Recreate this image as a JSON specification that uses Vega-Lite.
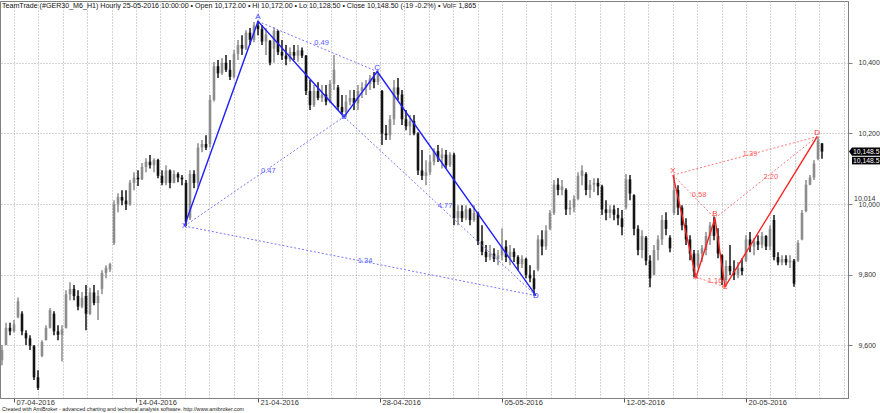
{
"$schema": "https://vega.github.io/schema/vega-lite/v6.json",
"width": 848, "height": 397,
"autosize": "none",
"padding": {"left": 0, "top": 1, "right": 32, "bottom": 15},
"background": "white",
"config": {"view": {"stroke": "#808080", "strokeWidth": 1}, "font": "Liberation Sans"},
"resolve": {"axis": {"x": "independent"}},
"datasets": {
"bars": [
{"k":0,"o":9558,"h":9601,"l":9544,"c":9587},{"k":1,"o":9601,"h":9664,"l":9601,"c":9650},{"k":2,"o":9650,"h":9664,"l":9629,"c":9640},{"k":3,"o":9640,"h":9672,"l":9637,"c":9660},
{"k":4,"o":9680,"h":9736,"l":9677,"c":9725},{"k":5,"o":9690,"h":9697,"l":9629,"c":9640},{"k":6,"o":9635,"h":9643,"l":9601,"c":9620},{"k":7,"o":9620,"h":9629,"l":9587,"c":9600},
{"k":8,"o":9598,"h":9601,"l":9502,"c":9510},{"k":9,"o":9510,"h":9530,"l":9474,"c":9480},{"k":10,"o":9570,"h":9615,"l":9567,"c":9610},{"k":11,"o":9615,"h":9657,"l":9615,"c":9650},
{"k":12,"o":9650,"h":9706,"l":9648,"c":9700},{"k":13,"o":9690,"h":9697,"l":9629,"c":9640},{"k":14,"o":9640,"h":9657,"l":9615,"c":9630},{"k":15,"o":9630,"h":9657,"l":9555,"c":9645},
{"k":16,"o":9650,"h":9756,"l":9648,"c":9745},{"k":17,"o":9745,"h":9779,"l":9728,"c":9760},{"k":18,"o":9760,"h":9771,"l":9728,"c":9740},{"k":19,"o":9740,"h":9756,"l":9700,"c":9710},
{"k":20,"o":9710,"h":9751,"l":9705,"c":9735},{"k":21,"o":9740,"h":9771,"l":9643,"c":9690},{"k":22,"o":9690,"h":9763,"l":9686,"c":9750},{"k":23,"o":9750,"h":9771,"l":9714,"c":9720},
{"k":24,"o":9720,"h":9756,"l":9672,"c":9740},{"k":25,"o":9760,"h":9813,"l":9745,"c":9805},{"k":26,"o":9805,"h":9827,"l":9790,"c":9820},{"k":27,"o":9815,"h":9834,"l":9808,"c":9830},
{"k":28,"o":9890,"h":10011,"l":9884,"c":10000},{"k":29,"o":10000,"h":10031,"l":9977,"c":10020},{"k":30,"o":10020,"h":10039,"l":9997,"c":10010},{"k":31,"o":10010,"h":10039,"l":9983,"c":10000},
{"k":32,"o":10000,"h":10068,"l":9995,"c":10060},{"k":33,"o":10060,"h":10090,"l":10039,"c":10075},{"k":34,"o":10075,"h":10096,"l":10051,"c":10070},{"k":35,"o":10070,"h":10116,"l":10068,"c":10105},
{"k":36,"o":10105,"h":10130,"l":10090,"c":10120},{"k":37,"o":10120,"h":10139,"l":10101,"c":10110},{"k":38,"o":10110,"h":10130,"l":10090,"c":10125},{"k":39,"o":10125,"h":10128,"l":10073,"c":10080},
{"k":40,"o":10080,"h":10096,"l":10053,"c":10060},{"k":41,"o":10060,"h":10110,"l":10053,"c":10095},{"k":42,"o":10095,"h":10098,"l":10045,"c":10060},{"k":43,"o":10060,"h":10096,"l":10059,"c":10085},
{"k":44,"o":10085,"h":10090,"l":10062,"c":10075},{"k":45,"o":10075,"h":10082,"l":10053,"c":10070},{"k":46,"o":10060,"h":10068,"l":9938,"c":9950},{"k":47,"o":9960,"h":10096,"l":9955,"c":10085},
{"k":48,"o":10085,"h":10096,"l":10045,"c":10060},{"k":49,"o":10060,"h":10172,"l":10048,"c":10160},{"k":50,"o":10160,"h":10181,"l":10147,"c":10170},{"k":51,"o":10170,"h":10195,"l":10153,"c":10160},
{"k":52,"o":10170,"h":10309,"l":10160,"c":10295},{"k":53,"o":10295,"h":10402,"l":10290,"c":10390},{"k":54,"o":10390,"h":10408,"l":10357,"c":10370},{"k":55,"o":10370,"h":10413,"l":10365,"c":10400},
{"k":56,"o":10400,"h":10422,"l":10374,"c":10380},{"k":57,"o":10380,"h":10408,"l":10351,"c":10360},{"k":58,"o":10360,"h":10436,"l":10355,"c":10425},{"k":59,"o":10425,"h":10464,"l":10408,"c":10450},
{"k":60,"o":10450,"h":10478,"l":10422,"c":10440},{"k":61,"o":10440,"h":10492,"l":10436,"c":10485},{"k":62,"o":10485,"h":10498,"l":10450,"c":10465},{"k":63,"o":10465,"h":10515,"l":10458,"c":10505},
{"k":64,"o":10505,"h":10517,"l":10478,"c":10495},{"k":65,"o":10495,"h":10507,"l":10450,"c":10460},{"k":66,"o":10460,"h":10498,"l":10422,"c":10480},{"k":67,"o":10462,"h":10464,"l":10393,"c":10400},
{"k":68,"o":10440,"h":10500,"l":10400,"c":10490},{"k":69,"o":10490,"h":10492,"l":10422,"c":10430},{"k":70,"o":10430,"h":10464,"l":10408,"c":10420},{"k":71,"o":10420,"h":10450,"l":10393,"c":10410},
{"k":72,"o":10410,"h":10443,"l":10403,"c":10430},{"k":73,"o":10430,"h":10450,"l":10408,"c":10420},{"k":74,"o":10420,"h":10450,"l":10403,"c":10435},{"k":75,"o":10435,"h":10443,"l":10413,"c":10420},
{"k":76,"o":10420,"h":10422,"l":10309,"c":10320},{"k":77,"o":10320,"h":10351,"l":10266,"c":10280},{"k":78,"o":10280,"h":10337,"l":10275,"c":10320},{"k":79,"o":10320,"h":10345,"l":10294,"c":10300},
{"k":80,"o":10300,"h":10337,"l":10289,"c":10310},{"k":81,"o":10310,"h":10337,"l":10280,"c":10290},{"k":82,"o":10290,"h":10351,"l":10285,"c":10340},{"k":83,"o":10340,"h":10422,"l":10323,"c":10380},
{"k":84,"o":10330,"h":10337,"l":10266,"c":10275},{"k":85,"o":10275,"h":10309,"l":10252,"c":10260},{"k":86,"o":10260,"h":10309,"l":10247,"c":10290},{"k":87,"o":10290,"h":10323,"l":10280,"c":10300},
{"k":88,"o":10300,"h":10323,"l":10266,"c":10285},{"k":89,"o":10285,"h":10337,"l":10266,"c":10320},{"k":90,"o":10320,"h":10345,"l":10300,"c":10330},{"k":91,"o":10330,"h":10351,"l":10309,"c":10340},
{"k":92,"o":10340,"h":10365,"l":10323,"c":10355},{"k":93,"o":10355,"h":10374,"l":10328,"c":10345},{"k":94,"o":10345,"h":10379,"l":10337,"c":10370},{"k":95,"o":10320,"h":10323,"l":10167,"c":10200},
{"k":96,"o":10200,"h":10224,"l":10181,"c":10195},{"k":97,"o":10195,"h":10252,"l":10181,"c":10240},{"k":98,"o":10240,"h":10351,"l":10224,"c":10330},{"k":99,"o":10330,"h":10357,"l":10294,"c":10310},
{"k":100,"o":10310,"h":10323,"l":10224,"c":10240},{"k":101,"o":10240,"h":10266,"l":10209,"c":10220},{"k":102,"o":10220,"h":10252,"l":10195,"c":10235},{"k":103,"o":10235,"h":10252,"l":10195,"c":10200},
{"k":104,"o":10200,"h":10203,"l":10082,"c":10095},{"k":105,"o":10095,"h":10153,"l":10068,"c":10080},{"k":106,"o":10080,"h":10124,"l":10053,"c":10090},{"k":107,"o":10090,"h":10139,"l":10082,"c":10120},
{"k":108,"o":10120,"h":10158,"l":10110,"c":10150},{"k":109,"o":10150,"h":10167,"l":10119,"c":10130},{"k":110,"o":10130,"h":10158,"l":10101,"c":10140},{"k":111,"o":10140,"h":10153,"l":10101,"c":10110},
{"k":112,"o":10110,"h":10147,"l":10105,"c":10140},{"k":113,"o":10140,"h":10145,"l":9940,"c":9960},{"k":114,"o":9960,"h":9997,"l":9940,"c":9980},{"k":115,"o":9980,"h":9997,"l":9949,"c":9960},
{"k":116,"o":9960,"h":9997,"l":9954,"c":9985},{"k":117,"o":9985,"h":9989,"l":9940,"c":9955},{"k":118,"o":9955,"h":9997,"l":9950,"c":9975},{"k":119,"o":9975,"h":9978,"l":9884,"c":9895},
{"k":120,"o":9895,"h":9940,"l":9855,"c":9865},{"k":121,"o":9865,"h":9884,"l":9836,"c":9850},{"k":122,"o":9850,"h":9884,"l":9841,"c":9860},{"k":123,"o":9860,"h":9875,"l":9836,"c":9845},
{"k":124,"o":9845,"h":9870,"l":9827,"c":9855},{"k":125,"o":9855,"h":9932,"l":9841,"c":9880},{"k":126,"o":9880,"h":9898,"l":9836,"c":9850},{"k":127,"o":9850,"h":9884,"l":9827,"c":9865},
{"k":128,"o":9865,"h":9875,"l":9836,"c":9850},{"k":129,"o":9850,"h":9855,"l":9813,"c":9830},{"k":130,"o":9830,"h":9855,"l":9819,"c":9845},{"k":131,"o":9845,"h":9848,"l":9790,"c":9800},
{"k":132,"o":9800,"h":9827,"l":9779,"c":9790},{"k":133,"o":9790,"h":9813,"l":9741,"c":9760},{"k":134,"o":9815,"h":9912,"l":9810,"c":9900},{"k":135,"o":9900,"h":9926,"l":9855,"c":9880},
{"k":136,"o":9880,"h":9940,"l":9870,"c":9925},{"k":137,"o":9930,"h":9983,"l":9926,"c":9975},{"k":138,"o":9975,"h":10068,"l":9969,"c":10055},{"k":139,"o":10055,"h":10073,"l":10025,"c":10040},
{"k":140,"o":10040,"h":10068,"l":10025,"c":10050},{"k":141,"o":10040,"h":10045,"l":9969,"c":9985},{"k":142,"o":9985,"h":10011,"l":9969,"c":9990},{"k":143,"o":9990,"h":10025,"l":9977,"c":10015},
{"k":144,"o":10015,"h":10090,"l":10011,"c":10080},{"k":145,"o":10080,"h":10110,"l":10053,"c":10095},{"k":146,"o":10085,"h":10090,"l":10025,"c":10040},{"k":147,"o":10040,"h":10068,"l":10017,"c":10055},
{"k":148,"o":10055,"h":10073,"l":10034,"c":10060},{"k":149,"o":10060,"h":10073,"l":10025,"c":10050},{"k":150,"o":10050,"h":10055,"l":9969,"c":9985},{"k":151,"o":9985,"h":10011,"l":9954,"c":9975},
{"k":152,"o":9975,"h":9997,"l":9960,"c":9985},{"k":153,"o":9985,"h":9997,"l":9954,"c":9970},{"k":154,"o":9970,"h":9989,"l":9940,"c":9960},{"k":155,"o":9960,"h":9983,"l":9912,"c":9935},
{"k":156,"o":9990,"h":10085,"l":9985,"c":10070},{"k":157,"o":10070,"h":10082,"l":10011,"c":10030},{"k":158,"o":10025,"h":10028,"l":9912,"c":9930},{"k":159,"o":9930,"h":9940,"l":9855,"c":9870},
{"k":160,"o":9870,"h":9926,"l":9847,"c":9910},{"k":161,"o":9905,"h":9910,"l":9827,"c":9840},{"k":162,"o":9840,"h":9855,"l":9765,"c":9790},{"k":163,"o":9800,"h":9884,"l":9799,"c":9870},
{"k":164,"o":9870,"h":9912,"l":9841,"c":9900},{"k":165,"o":9900,"h":9969,"l":9884,"c":9955},{"k":166,"o":9955,"h":9977,"l":9912,"c":9930},{"k":167,"o":9905,"h":9912,"l":9864,"c":9875},
{"k":168,"o":9975,"h":10082,"l":9969,"c":10040},{"k":169,"o":10040,"h":10053,"l":9969,"c":9990},{"k":170,"o":9990,"h":9997,"l":9926,"c":9940},{"k":171,"o":9940,"h":9960,"l":9884,"c":9900},
{"k":172,"o":9900,"h":9912,"l":9841,"c":9860},{"k":173,"o":9860,"h":9870,"l":9793,"c":9810},{"k":174,"o":9825,"h":9870,"l":9819,"c":9860},{"k":175,"o":9860,"h":9884,"l":9836,"c":9875},
{"k":176,"o":9870,"h":9921,"l":9855,"c":9910},{"k":177,"o":9910,"h":9949,"l":9884,"c":9940},{"k":178,"o":9940,"h":9965,"l":9898,"c":9910},{"k":179,"o":9910,"h":9932,"l":9847,"c":9860},
{"k":180,"o":9855,"h":9858,"l":9771,"c":9785},{"k":181,"o":9785,"h":9841,"l":9766,"c":9825},{"k":182,"o":9825,"h":9884,"l":9799,"c":9810},{"k":183,"o":9810,"h":9841,"l":9785,"c":9800},
{"k":184,"o":9800,"h":9836,"l":9790,"c":9820},{"k":185,"o":9820,"h":9847,"l":9799,"c":9810},{"k":186,"o":9840,"h":9912,"l":9836,"c":9900},{"k":187,"o":9900,"h":9921,"l":9864,"c":9880},
{"k":188,"o":9880,"h":9904,"l":9855,"c":9895},{"k":189,"o":9895,"h":9912,"l":9870,"c":9885},{"k":190,"o":9885,"h":9921,"l":9875,"c":9910},{"k":191,"o":9910,"h":9912,"l":9870,"c":9880},
{"k":192,"o":9880,"h":9940,"l":9870,"c":9930},{"k":193,"o":9955,"h":9969,"l":9841,"c":9850},{"k":194,"o":9850,"h":9864,"l":9827,"c":9835},{"k":195,"o":9835,"h":9855,"l":9827,"c":9845},
{"k":196,"o":9845,"h":9855,"l":9827,"c":9835},{"k":197,"o":9835,"h":9855,"l":9819,"c":9840},{"k":198,"o":9840,"h":9845,"l":9766,"c":9775},{"k":199,"o":9840,"h":9898,"l":9836,"c":9890},
{"k":200,"o":9900,"h":9983,"l":9898,"c":9975},{"k":201,"o":9980,"h":10068,"l":9977,"c":10055},{"k":202,"o":10055,"h":10082,"l":10053,"c":10075},{"k":203,"o":10075,"h":10124,"l":10068,"c":10115},
{"k":204,"o":10128,"h":10191,"l":10124,"c":10180},{"k":205,"o":10172,"h":10172,"l":10128.5,"c":10148.5}
],
"pts": [
{"pat":"b","lab":"X","i":0,"k":45.6,"p":9938,"hi":false},
{"pat":"b","lab":"A","i":1,"k":64,"p":10517,"hi":true},
{"pat":"b","lab":"B","i":2,"k":85.5,"p":10247,"hi":false},
{"pat":"b","lab":"C","i":3,"k":93.8,"p":10375,"hi":true},
{"pat":"b","lab":"D","i":4,"k":133.5,"p":9741,"hi":false},
{"pat":"r","lab":"X","i":0,"k":167.75,"p":10082,"hi":true},
{"pat":"r","lab":"A","i":1,"k":173.5,"p":9793,"hi":false},
{"pat":"r","lab":"B","i":2,"k":178.25,"p":9960,"hi":true},
{"pat":"r","lab":"C","i":3,"k":180.75,"p":9766,"hi":false},
{"pat":"r","lab":"D","i":4,"k":203.8,"p":10191,"hi":true}
],
"dots": [
{"pat":"b","k1":45.6,"p1":9938,"k2":85.5,"p2":10247},
{"pat":"b","k1":64,"p1":10517,"k2":93.8,"p2":10375},
{"pat":"b","k1":85.5,"p1":10247,"k2":133.5,"p2":9741},
{"pat":"b","k1":45.6,"p1":9938,"k2":133.5,"p2":9741},
{"pat":"r","k1":167.75,"p1":10082,"k2":178.25,"p2":9960},
{"pat":"r","k1":173.5,"p1":9793,"k2":180.75,"p2":9766},
{"pat":"r","k1":178.25,"p1":9960,"k2":203.8,"p2":10191},
{"pat":"r","k1":167.75,"p1":10082,"k2":203.8,"p2":10191}
],
"ratios": [
{"pat":"b","txt":"0.49","k":79.9,"p":10455},
{"pat":"b","txt":"0.47","k":66.6,"p":10094},
{"pat":"b","txt":"4.77","k":110.75,"p":9995},
{"pat":"b","txt":"1.34","k":90.75,"p":9839},
{"pat":"r","txt":"1.39","k":187,"p":10142},
{"pat":"r","txt":"2.20","k":192.2,"p":10077},
{"pat":"r","txt":"0.58","k":174.25,"p":10026},
{"pat":"r","txt":"1.16","k":178.25,"p":9783}
],
"info": [
{"title":"TeamTrade (#GER30_M6_H1) Hourly  25-05-2016 10:00:00  •  Open 10,172.00  •  Hi 10,172.00  •  Lo 10,128.50  •  Close 10,148.50 (-19 -0.2%)  •  Vol= 1,865","footer":"Created with AmiBroker - advanced charting and technical analysis software. http://www.amibroker.com","close":10148.5,"closeLabel":"10,148.5","marker":10014,"markerLabel":"10,014"}
]
},
"layer": [
{
"data": {"name": "bars"},
"mark": {"type": "rule", "strokeWidth": 1.5},
"encoding": {
"x": {"field": "k", "type": "quantitative", "scale": {"domain": [-0.5, 211.5], "nice": false, "zero": false},
"axis": {"orient": "bottom", "title": null,
"values": [3,9.1,15.2,21.3,27.4,33.5,39.6,45.7,51.8,57.9,64,70.1,76.2,82.3,88.4,94.5,100.6,106.7,112.8,118.9,125,131.1,137.2,143.3,149.4,155.5,161.6,167.7,173.8,179.9,186,192.1,198.2,204.3,210.4],
"grid": true, "gridColor": "#a8a8a8", "gridDash": [1, 2], "gridWidth": 1,
"domain": false, "ticks": false, "labels": false}},
"y": {"field": "l", "type": "quantitative", "scale": {"domain": [9451.4, 10574.6], "nice": false, "zero": false},
"axis": {"orient": "right", "title": null, "values": [9600, 9800, 10000, 10200, 10400], "format": ",.0f",
"grid": true, "gridColor": "#a8a8a8", "gridDash": [1, 2], "domainColor": "#808080", "tickSize": 4, "tickColor": "#808080",
"labelPadding": 6, "labelFontSize": 7, "labelColor": "#333333", "labelFont": "Liberation Sans", "labelAlign": "left", "labelOverlap": false}},
"y2": {"field": "h"},
"color": {"condition": {"test": "datum.c >= datum.o", "value": "#8c8c8c"}, "value": "#141414"}
}
},
{
"data": {"name": "bars"},
"mark": {"type": "rule", "strokeWidth": 2.6},
"encoding": {
"x": {"field": "k", "type": "quantitative",
"axis": {"orient": "bottom", "title": null, "values": [3, 33.5, 64, 94.5, 125, 155.5, 186], "grid": false,
"domain": true, "domainColor": "#808080", "ticks": true, "tickSize": 4, "tickColor": "#555555",
"labelExpr": "datum.value==3?'07-04-2016':datum.value==33.5?'14-04-2016':datum.value==64?'21-04-2016':datum.value==94.5?'28-04-2016':datum.value==125?'05-05-2016':datum.value==155.5?'12-05-2016':'20-05-2016'",
"labelAlign": "left", "labelBaseline": "top", "labelPadding": -4, "labelOffset": 2, "labelFontSize": 7.5, "labelColor": "#333333", "labelFont": "Liberation Sans", "labelOverlap": false, "labelBound": false, "labelFlush": false}},
"y": {"field": "o", "type": "quantitative"},
"y2": {"field": "c"},
"color": {"condition": {"test": "datum.c >= datum.o", "value": "#8c8c8c"}, "value": "#141414"}
}
},
{
"data": {"name": "dots"},
"mark": {"type": "rule", "strokeWidth": 1, "strokeDash": [2, 2]},
"encoding": {
"x": {"field": "k1", "type": "quantitative", "axis": null},
"y": {"field": "p1", "type": "quantitative"},
"x2": {"field": "k2"},
"y2": {"field": "p2"},
"color": {"condition": {"test": "datum.pat == 'b'", "value": "#7878ff"}, "value": "#ff7878"}
}
},
{
"data": {"name": "pts"},
"mark": {"type": "line", "strokeWidth": 1.4},
"encoding": {
"x": {"field": "k", "type": "quantitative", "axis": null},
"y": {"field": "p", "type": "quantitative"},
"detail": {"field": "pat"},
"order": {"field": "i"},
"color": {"condition": {"test": "datum.pat == 'b'", "value": "#2020ff"}, "value": "#ff2020"}
}
},
{
"data": {"name": "ratios"},
"mark": {"type": "text", "fontSize": 7.5, "align": "center", "baseline": "middle", "font": "Liberation Sans"},
"encoding": {
"x": {"field": "k", "type": "quantitative", "axis": null},
"y": {"field": "p", "type": "quantitative"},
"text": {"field": "txt"},
"color": {"condition": {"test": "datum.pat == 'b'", "value": "#5a5aff"}, "value": "#ff5a5a"}
}
},
{
"data": {"name": "pts"},
"transform": [{"filter": "datum.hi"}],
"mark": {"type": "text", "fontSize": 8, "align": "center", "baseline": "middle", "dy": -4, "font": "Liberation Sans"},
"encoding": {
"x": {"field": "k", "type": "quantitative", "axis": null},
"y": {"field": "p", "type": "quantitative"},
"text": {"field": "lab"},
"color": {"condition": {"test": "datum.pat == 'b'", "value": "#4040ff"}, "value": "#ff4040"}
}
},
{
"data": {"name": "pts"},
"transform": [{"filter": "!datum.hi"}],
"mark": {"type": "text", "fontSize": 8, "align": "center", "baseline": "middle", "dy": 0, "font": "Liberation Sans"},
"encoding": {
"x": {"field": "k", "type": "quantitative", "axis": null},
"y": {"field": "p", "type": "quantitative"},
"text": {"field": "lab"},
"color": {"condition": {"test": "datum.pat == 'b'", "value": "#4040ff"}, "value": "#ff4040"}
}
},
{
"data": {"name": "info"},
"mark": {"type": "text", "fontSize": 7.1, "align": "left", "baseline": "middle", "dx": 2, "dy": 4.5, "color": "#111111", "font": "Liberation Sans"},
"encoding": {"x": {"datum": -0.5, "axis": null}, "y": {"datum": 10574.6}, "text": {"field": "title"}}
},
{
"data": {"name": "info"},
"mark": {"type": "text", "fontSize": 5.3, "align": "left", "baseline": "middle", "dx": 2, "dy": 11, "color": "#222222", "font": "Liberation Sans"},
"encoding": {"x": {"datum": -0.5, "axis": null}, "y": {"datum": 9451.4}, "text": {"field": "footer"}}
},
{
"data": {"name": "info"},
"mark": {"type": "point", "shape": "M0.05,0L0.2,-0.21L1.7,-0.21L1.7,0.21L0.2,0.21Z", "size": 1600, "filled": true, "color": "#000000", "opacity": 1, "strokeWidth": 0},
"encoding": {"x": {"datum": 211.5, "axis": null}, "y": {"field": "close", "type": "quantitative"}}
},
{
"data": {"name": "info"},
"mark": {"type": "point", "shape": "M0.2,0.26L1.7,0.26L1.7,0.64L0.2,0.64Z", "size": 1600, "filled": true, "color": "#000000", "opacity": 1, "strokeWidth": 0},
"encoding": {"x": {"datum": 211.5, "axis": null}, "y": {"field": "close", "type": "quantitative"}}
},
{
"data": {"name": "info"},
"mark": {"type": "text", "fontSize": 6.8, "align": "left", "baseline": "middle", "dx": 5, "color": "#ffffff", "font": "Liberation Sans"},
"encoding": {"x": {"datum": 211.5, "axis": null}, "y": {"field": "close", "type": "quantitative"}, "text": {"field": "closeLabel"}}
},
{
"data": {"name": "info"},
"mark": {"type": "text", "fontSize": 6.8, "align": "left", "baseline": "middle", "dx": 5, "dy": 9, "color": "#ffffff", "font": "Liberation Sans"},
"encoding": {"x": {"datum": 211.5, "axis": null}, "y": {"field": "close", "type": "quantitative"}, "text": {"field": "closeLabel"}}
},
{
"data": {"name": "info"},
"mark": {"type": "text", "fontSize": 7, "align": "left", "baseline": "middle", "dx": 6, "color": "#333333", "font": "Liberation Sans"},
"encoding": {"x": {"datum": 211.5, "axis": null}, "y": {"field": "marker", "type": "quantitative"}, "text": {"field": "markerLabel"}}
}
]
}
